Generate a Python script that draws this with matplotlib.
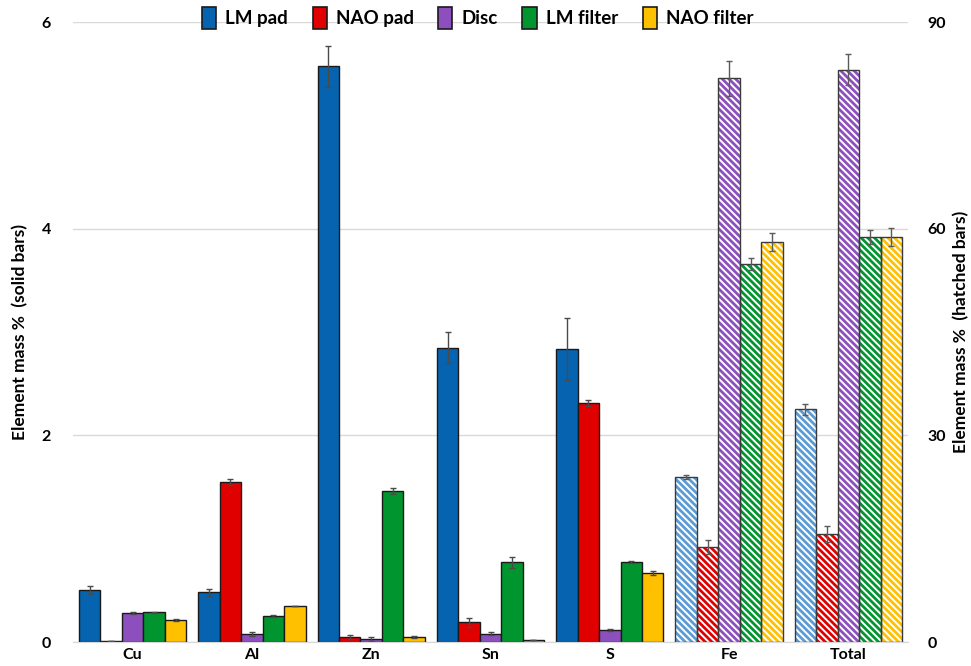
import numpy as np
import matplotlib
from matplotlib import pyplot as plt
from matplotlib.patches import Patch

plt.rcParams['font.family'] = ['Lato', 'DejaVu Sans']
plt.rcParams['font.weight'] = 'bold'
plt.rcParams['axes.labelweight'] = 'bold'
plt.rcParams['hatch.linewidth'] = 1.4

# categories
elements = ["Cu", "Al", "Zn", "Sn", "S", "Fe", "Total"]
series = ["LM pad", "NAO pad", "Disc", "LM filter", "NAO filter"]

# solid bars (left axis): Cu, Al, Zn, Sn, S
lm_pad = [0.50, 0.48, 5.57, 2.85, 2.84]
lm_pad_err = [0.04, 0.03, 0.20, 0.15, 0.30]
nao_pad = [0.01, 1.55, 0.05, 0.19, 2.31]
nao_pad_err = [0.0, 0.03, 0.02, 0.04, 0.03]
disc = [0.28, 0.08, 0.03, 0.08, 0.12]
disc_err = [0.01, 0.02, 0.02, 0.015, 0.01]
lm_filter = [0.29, 0.25, 1.46, 0.77, 0.77]
lm_filter_err = [0.005, 0.01, 0.03, 0.05, 0.01]
nao_filter = [0.21, 0.35, 0.05, 0.02, 0.67]
nao_filter_err = [0.01, 0.0, 0.01, 0.0, 0.02]

# hatched bars (right axis): Fe, Total
lm_pad_h = [23.9, 33.8]
lm_pad_h_err = [0.3, 0.8]
nao_pad_h = [13.8, 15.7]
nao_pad_h_err = [1.0, 1.2]
disc_h = [81.8, 83.1]
disc_h_err = [2.5, 2.3]
lm_filter_h = [54.9, 58.8]
lm_filter_h_err = [0.9, 1.0]
nao_filter_h = [58.1, 58.8]
nao_filter_h_err = [1.3, 1.3]

solid = [lm_pad, nao_pad, disc, lm_filter, nao_filter]
solid_err = [lm_pad_err, nao_pad_err, disc_err, lm_filter_err, nao_filter_err]
hatched = [lm_pad_h, nao_pad_h, disc_h, lm_filter_h, nao_filter_h]
hatched_err = [lm_pad_h_err, nao_pad_h_err, disc_h_err, lm_filter_h_err, nao_filter_h_err]

colors = ["#0563B0", "#E00000", "#8E4FBE", "#00952F", "#FFC000"]
colors_h = ["#5B9BD5", "#E00000", "#8E4FBE", "#00952F", "#FFC000"]

fig = plt.figure(figsize=(9.71, 6.66), dpi=100)
ax = fig.add_axes([73/971, 24/666, 835/971, 620/666])
ax2 = ax.twinx()

x = np.arange(len(elements))
w = 0.18
xs = x[:5]
xh = x[5:]
for k in range(5):
    off = (k - 2) * w
    ax.bar(xs + off, solid[k], w, color=colors[k], edgecolor="#1a1a1a", lw=1.0, zorder=3)
    ax.errorbar(xs + off, solid[k], yerr=solid_err[k], fmt="none", ecolor="#4a4a4a",
                elinewidth=1, capsize=2.5, capthick=1, zorder=4)
    ax2.bar(xh + off, hatched[k], w, color=colors_h[k], edgecolor="white",
            hatch="\\\\\\\\\\", lw=0, zorder=2)
    ax2.bar(xh + off, hatched[k], w, fill=False, edgecolor="#3a3a3a", lw=1.0, zorder=3)
    ax2.errorbar(xh + off, hatched[k], yerr=hatched_err[k], fmt="none", ecolor="#5a5a5a",
                 elinewidth=1, capsize=2.5, capthick=1, zorder=4)

ax.set_xlim(-0.5, 6.5)
ax.set_ylim(0, 6)
ax2.set_ylim(0, 90)
ax.set_yticks([0, 2, 4, 6])
ax2.set_yticks([0, 30, 60, 90])
ax.set_xticks(x)
ax.set_xticklabels(elements, fontsize=11.5)
ax.yaxis.grid(True, color="#d9d9d9", lw=1)
ax.set_axisbelow(True)
for a in (ax, ax2):
    for s in ["left", "right", "top"]:
        a.spines[s].set_visible(False)
    a.spines["bottom"].set_color("#d9d9d9")
    a.tick_params(length=0, labelsize=11.5)
ax.tick_params(axis="y", pad=16)
ax2.tick_params(axis="y", pad=14)
ax.tick_params(axis="x", pad=4)

fig.text(20/971, 1 - 332/666, "Element mass %  (solid bars)", fontsize=12.5,
         rotation=90, ha="center", va="center", fontweight="bold")
fig.text(961/971, 1 - 332/666, "Element mass %  (hatched bars)", fontsize=12.5,
         rotation=90, ha="center", va="center", fontweight="bold")

handles = [Patch(facecolor=c, edgecolor="#1a1a1a", lw=1.2) for c in colors]
fig.legend(handles, series, loc="center", bbox_to_anchor=(0.492, 0.973), ncol=5,
           frameon=False, fontsize=13.5, handlelength=0.75, handleheight=1.4,
           handletextpad=0.5, columnspacing=1.3)

fig.savefig("out.png", dpi=100)
